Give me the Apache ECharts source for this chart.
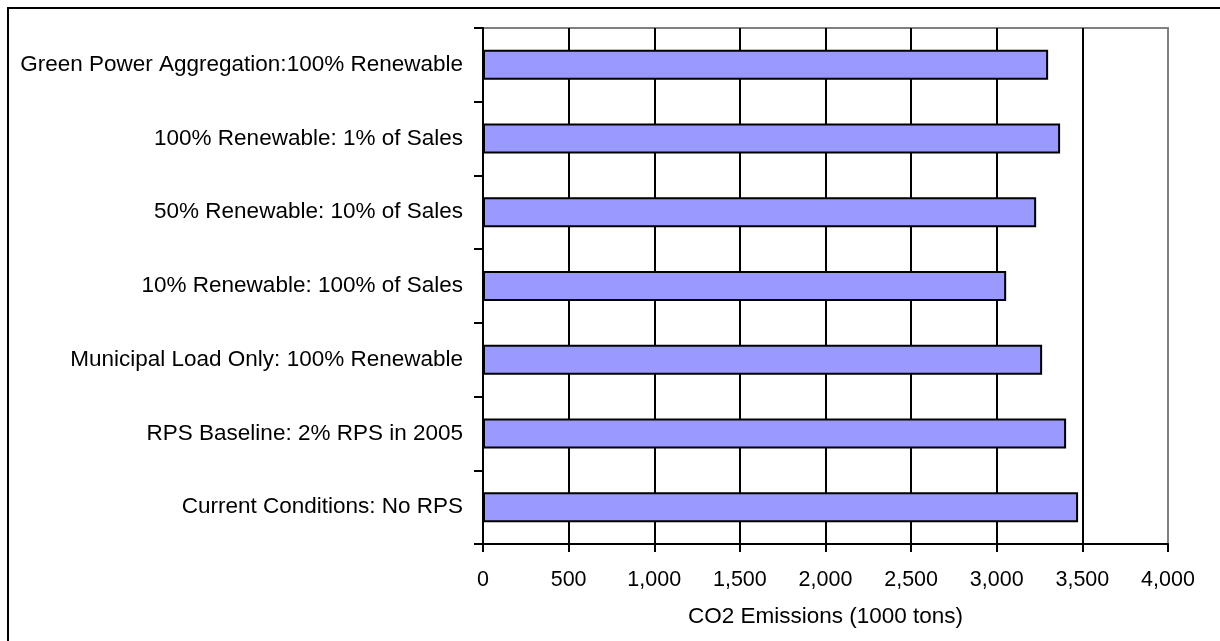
<!DOCTYPE html>
<html>
<head>
<meta charset="utf-8">
<script src="https://cdn.jsdelivr.net/npm/echarts@6/dist/echarts.min.js"></script>
<style>
  html, body { margin: 0; padding: 0; background: #ffffff; }
  #chart { width: 1220px; height: 641px; }
</style>
</head>
<body>
<div id="chart"></div>
<script>
// Scenarios, listed bottom to top as they appear on the vertical axis
const scenarios = [
  'Current Conditions: No RPS',
  'RPS Baseline: 2% RPS in 2005',
  'Municipal Load Only: 100% Renewable',
  '10% Renewable: 100% of Sales',
  '50% Renewable: 10% of Sales',
  '100% Renewable: 1% of Sales',
  'Green Power Aggregation:100% Renewable'
];

// CO2 emissions per scenario, in thousands of tons
const co2Emissions = [3475, 3405, 3265, 3055, 3230, 3370, 3300];

// Value axis range and step
const axisMin = 0;
const axisMax = 4000;
const axisStep = 500;

const axisTitle = 'CO2 Emissions (1000 tons)';

const FONT = '"Liberation Sans", Arial, sans-serif';

// Grid lines: black inside the plot, grey where they meet the plot border
const tickCount = (axisMax - axisMin) / axisStep + 1;
const splitColors = [];
for (let i = 0; i < tickCount; i++) {
  splitColors.push(i === tickCount - 1 ? '#808080' : '#000000');
}

const chart = echarts.init(document.getElementById('chart'), null, { renderer: 'canvas' });

chart.setOption({
  backgroundColor: '#ffffff',
  animation: false,
  graphic: [{
    type: 'rect',
    silent: true,
    z: 100,
    shape: { x: 8, y: 8, width: 1400, height: 800 },
    style: { fill: 'none', stroke: '#000000', lineWidth: 2 }
  }],
  grid: {
    left: 483,
    right: 52,
    top: 28,
    bottom: 97,
    show: true,
    borderColor: '#808080',
    borderWidth: 2,
    backgroundColor: '#ffffff',
    containLabel: false
  },
  xAxis: {
    type: 'value',
    min: axisMin,
    max: axisMax,
    interval: axisStep,
    name: axisTitle,
    nameLocation: 'middle',
    nameGap: 61,
    nameTextStyle: { fontFamily: FONT, fontSize: 22.5, color: '#000000' },
    axisLine: { show: true, lineStyle: { color: '#000000', width: 2 } },
    axisTick: { show: true, length: 8, lineStyle: { color: '#000000', width: 2 } },
    axisLabel: {
      margin: 25,
      fontFamily: FONT,
      fontSize: 21.5,
      color: '#000000',
      formatter: v => v.toLocaleString('en-US')
    },
    splitLine: { show: true, lineStyle: { color: splitColors, width: 2 } }
  },
  yAxis: {
    type: 'category',
    data: scenarios,
    axisLine: { show: true, lineStyle: { color: '#000000', width: 2 } },
    axisTick: { show: true, inside: false, length: 9, lineStyle: { color: '#000000', width: 2 } },
    axisLabel: {
      margin: 20,
      fontFamily: FONT,
      fontSize: 22.5,
      color: '#000000'
    },
    splitLine: { show: false }
  },
  series: [{
    type: 'bar',
    data: co2Emissions,
    barWidth: 30,
    itemStyle: {
      color: '#9999ff',
      borderColor: '#000000',
      borderWidth: 2
    }
  }]
});
</script>
</body>
</html>
